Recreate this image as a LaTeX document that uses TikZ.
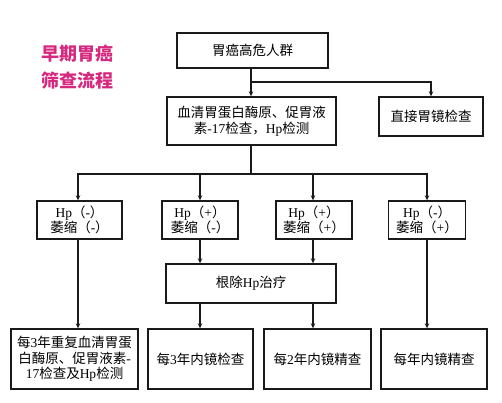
\documentclass[tikz,border=0pt]{standalone}
\usepackage{fontspec}
\setmainfont{Liberation Serif}
\newfontfamily\cjk{Noto Sans CJK SC}
\usetikzlibrary{arrows.meta}
\newcommand\lt[1]{{\rmfamily #1}}
\definecolor{titlec}{HTML}{D6287E}
\definecolor{linec}{HTML}{1A1A1A}
\begin{document}
\begin{tikzpicture}[x=1pt,y=-1pt,
  box/.style={draw=linec,line width=1.4pt,fill=white,align=center,inner sep=1pt,
    font=\cjk\fontsize{13.5}{15.5}\selectfont,text=black},
  conn/.style={draw=linec,line width=1.6pt},
  arr/.style={conn,-{Stealth[length=5pt,width=4.5pt]}}]
\useasboundingbox (0,0) rectangle (502,402);
\fill[white] (0,0) rectangle (502,402);
\node[font=\cjk\bfseries\fontsize{18}{27}\selectfont,text=titlec,align=left] (title) at (77,67) {早期胃癌\\筛查流程};
\node[box,minimum width=151pt,minimum height=35pt] (b1) at (252.5,50.5) {胃癌高危人群};
\node[box,minimum width=169pt,minimum height=48pt] (b2) at (251.5,121) {血清胃蛋白酶原、促胃液\\素\lt{-17}检查，\lt{Hp}检测};
\node[box,minimum width=104pt,minimum height=39pt] (b3) at (431,116.5) {直接胃镜检查};
\node[box,minimum width=85pt,minimum height=38pt] (ha) at (79.5,220) {\lt{Hp}（\lt{-}）\\萎缩（\lt{-}）};
\node[box,minimum width=76pt,minimum height=38pt] (hb) at (200,220) {\lt{Hp}（\lt{+}）\\萎缩（\lt{-}）};
\node[box,minimum width=76pt,minimum height=38pt] (hc) at (314,220) {\lt{Hp}（\lt{+}）\\萎缩（\lt{+}）};
\node[box,minimum width=77pt,minimum height=38pt] (hd) at (427,220) {\lt{Hp}（\lt{-}）\\萎缩（\lt{+}）};
\node[box,minimum width=170pt,minimum height=39pt] (rx) at (251,283.5) {根除\lt{Hp}治疗};
\node[box,minimum width=127pt,minimum height=60pt] (ea) at (74.5,359) {每\lt{3}年重复血清胃蛋\\白酶原、促胃液素\lt{-}\\\lt{17}检查及\lt{Hp}检测};
\node[box,minimum width=105pt,minimum height=60pt] (eb) at (200.5,359) {每\lt{3}年内镜检查};
\node[box,minimum width=107pt,minimum height=60pt] (ec) at (317.5,359) {每\lt{2}年内镜精查};
\node[box,minimum width=106pt,minimum height=60pt] (ed) at (434,359) {每年内镜精查};
\coordinate (j1) at (251,82);
\coordinate (j2) at (251,174);
\coordinate (xa) at (78,0);
\coordinate (xc) at (313,0);
\draw[conn] (b1.south -| j1) -- (j1);
\draw[arr] (j1) -- (j1 |- b2.north);
\draw[arr] (j1) -| (b3.north);
\draw[conn] (b2.south -| j2) -- (j2);
\draw[arr] (j2) -| (xa |- ha.north);
\draw[arr] (j2) -| (hb.north);
\draw[arr] (j2) -| (xc |- hc.north);
\draw[arr] (j2) -| (hd.north);
\draw[arr] (xa |- ha.south) -- (xa |- ea.north);
\draw[arr] (hb.south) -- (hb.south |- rx.north);
\draw[arr] (xc |- hc.south) -- (xc |- rx.north);
\draw[arr] (hd.south) -- (hd.south |- ed.north);
\draw[arr] (hb.south |- rx.south) -- (hb.south |- eb.north);
\draw[arr] (xc |- rx.south) -- (xc |- ec.north);
\end{tikzpicture}
\end{document}
